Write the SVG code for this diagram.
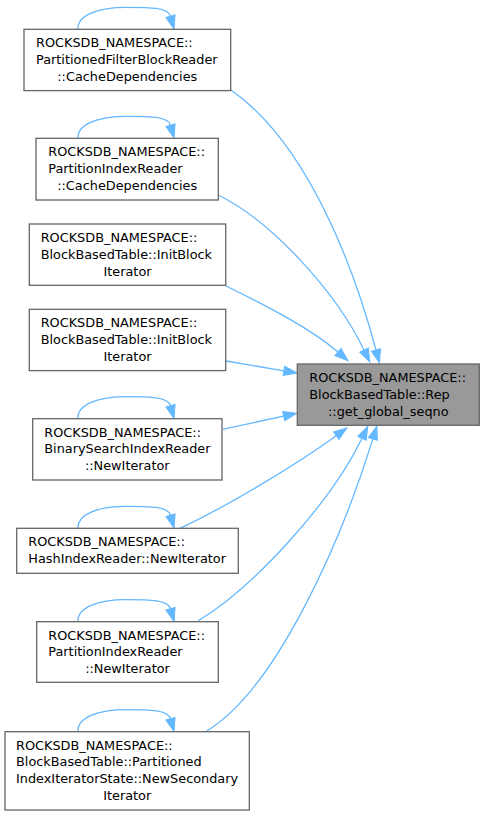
<svg xmlns="http://www.w3.org/2000/svg" width="484" height="816" viewBox="0 0 484 816">
<defs>
<marker id="ah" markerUnits="userSpaceOnUse" markerWidth="15" markerHeight="11" refX="0" refY="4.7" orient="auto" overflow="visible">
<path d="M0,0 L13.3,4.7 L0,9.4 Z" fill="#63b8ff" stroke="#63b8ff" stroke-width="1"/>
</marker>
<style>
.box{fill:#ffffff;stroke:#666666;stroke-width:1.3}
.hl{fill:#999999;stroke:#666666;stroke-width:1.3}
text{font-family:"DejaVu Sans","Liberation Sans",sans-serif;font-size:12.85px;fill:#000000}
.m{text-anchor:middle}
.e{fill:none;stroke:#63b8ff;stroke-width:1.3;marker-end:url(#ah)}
</style>
</defs>
<rect width="484" height="816" fill="#ffffff"/>
<g id="connectors">
<path class="e" d="M231,90 C310,145 356,275 376,350"/>
<path class="e" d="M218,195 C270,220 335,290 364,350"/>
<path class="e" d="M226,286 C265,305 310,328 338,352"/>
<path class="e" d="M226,361 L283.9,370.8"/>
<path class="e" d="M222.7,429.3 L283.7,416.1"/>
<path class="e" d="M180,528.3 C230,505 300,462 336.2,435.7"/>
<path class="e" d="M198.3,620.7 C250,590 330,505 362,438.3"/>
<path class="e" d="M206.7,731 C275,690 340,545 372.9,438.9"/>
<path class="e" d="M78,29.3 C77,15.3 98,7.3 126,7.3 C150,7.3 168,7.3 170.5,16.3"/>
<path class="e" d="M78,138.3 C77,124.3 98,116.3 126,116.3 C150,116.3 168,116.3 170.5,125.3"/>
<path class="e" d="M78,418.7 C77,404.7 98,396.7 126,396.7 C150,396.7 168,396.7 170.5,405.7"/>
<path class="e" d="M78,528.3 C77,514.3 98,506.3 126,506.3 C150,506.3 168,506.3 170.5,515.3"/>
<path class="e" d="M78,621.7 C77,607.7 98,599.7 126,599.7 C150,599.7 168,599.7 170.5,608.7"/>
<path class="e" d="M78,731.7 C77,717.7 98,709.7 126,709.7 C150,709.7 168,709.7 170.5,718.7"/>
</g>
<g id="target">
<rect class="hl" x="297.3" y="364" width="182" height="61.3"/>
<text x="309.3" y="381.8">ROCKSDB_NAMESPACE::</text>
<text x="309.3" y="398.7">BlockBasedTable::Rep</text>
<text class="m" x="388.3" y="415.6">::get_global_seqno</text>
</g>
<g id="n1">
<rect class="box" x="24" y="29.3" width="206.7" height="61.3"/>
<text x="36" y="47.1">ROCKSDB_NAMESPACE::</text>
<text x="36" y="64">PartitionedFilterBlockReader</text>
<text class="m" x="127.3" y="80.9">::CacheDependencies</text>
</g>
<g id="n2">
<rect class="box" x="36" y="138.3" width="182.3" height="61.7"/>
<text x="48.3" y="156.1">ROCKSDB_NAMESPACE::</text>
<text x="48.3" y="173">PartitionIndexReader</text>
<text class="m" x="127.2" y="189.9">::CacheDependencies</text>
</g>
<g id="n3">
<rect class="box" x="29.3" y="224" width="196.4" height="61.3"/>
<text x="40.7" y="241.8">ROCKSDB_NAMESPACE::</text>
<text x="40.7" y="258.7">BlockBasedTable::InitBlock</text>
<text class="m" x="127.5" y="275.6">Iterator</text>
</g>
<g id="n4">
<rect class="box" x="29.3" y="309.3" width="196.4" height="61.3"/>
<text x="40.7" y="327.1">ROCKSDB_NAMESPACE::</text>
<text x="40.7" y="344">BlockBasedTable::InitBlock</text>
<text class="m" x="127.5" y="360.9">Iterator</text>
</g>
<g id="n5">
<rect class="box" x="32.7" y="418.7" width="189.3" height="61.3"/>
<text x="44.3" y="436.5">ROCKSDB_NAMESPACE::</text>
<text x="44.3" y="453.4">BinarySearchIndexReader</text>
<text class="m" x="127.3" y="470.3">::NewIterator</text>
</g>
<g id="n6">
<rect class="box" x="16.7" y="528.3" width="221.6" height="45"/>
<text x="28.3" y="546.1">ROCKSDB_NAMESPACE::</text>
<text x="28.3" y="563">HashIndexReader::NewIterator</text>
</g>
<g id="n7">
<rect class="box" x="36.7" y="621.7" width="181.6" height="60.6"/>
<text x="48.3" y="639.5">ROCKSDB_NAMESPACE::</text>
<text x="48.3" y="656.4">PartitionIndexReader</text>
<text class="m" x="127.5" y="673.3">::NewIterator</text>
</g>
<g id="n8">
<rect class="box" x="5" y="731.7" width="244.3" height="78.3"/>
<text x="16" y="749.5">ROCKSDB_NAMESPACE::</text>
<text x="16" y="766.4">BlockBasedTable::Partitioned</text>
<text x="16" y="783.3">IndexIteratorState::NewSecondary</text>
<text class="m" x="127.2" y="800.2">Iterator</text>
</g>
</svg>
